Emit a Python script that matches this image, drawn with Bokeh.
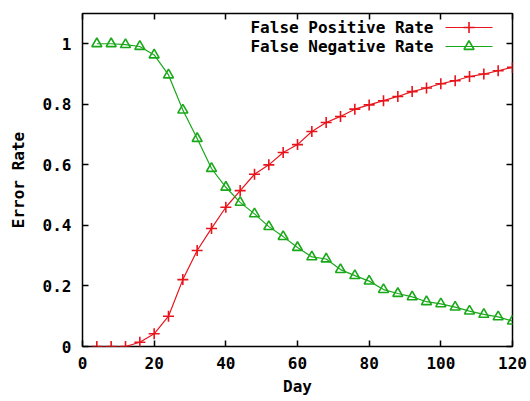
from bokeh.plotting import figure
from bokeh.models import FixedTicker, LinearAxis, Range1d, CustomJSTickFormatter, Label
from bokeh.embed import file_html
from bokeh.resources import INLINE

# Daily error rates of the classifier
days = [4, 8, 12, 16, 20, 24, 28, 32, 36, 40, 44, 48, 52, 56, 60,
        64, 68, 72, 76, 80, 84, 88, 92, 96, 100, 104, 108, 112, 116, 120]
false_positive = [0.0, 0.0, 0.0, 0.014, 0.042, 0.10, 0.221, 0.317, 0.39, 0.46,
                  0.515, 0.569, 0.60, 0.641, 0.667, 0.71, 0.74, 0.76, 0.784, 0.798,
                  0.812, 0.826, 0.842, 0.854, 0.868, 0.878, 0.892, 0.90, 0.911, 0.922]
false_negative = [1.0, 1.0, 0.997, 0.991, 0.963, 0.897, 0.781, 0.687, 0.588, 0.526,
                  0.476, 0.438, 0.396, 0.363, 0.327, 0.296, 0.289, 0.254, 0.234, 0.216,
                  0.188, 0.175, 0.164, 0.148, 0.141, 0.130, 0.117, 0.106, 0.098, 0.084]
series_names = ["False Positive Rate", "False Negative Rate"]
x_ticks = [0, 20, 40, 60, 80, 100, 120]
y_ticks = [0, 0.2, 0.4, 0.6, 0.8, 1.0]
y_tick_labels = ["0", "0.2", "0.4", "0.6", "0.8", "1"]

RED = "#e8141c"
GREEN = "#1aa81a"
FONT = "DejaVu Sans Mono"
FS = "16px"

W, H = 530, 401
LEFT, RIGHT, TOP, BOTTOM = 82, 18, 13, 55
X0, X1, Y0, Y1 = 0, 120, 0, 1.1

p = figure(width=W, height=H, output_backend="svg", toolbar_location=None,
           x_range=Range1d(X0, X1), y_range=Range1d(Y0, Y1),
           min_border_left=LEFT, min_border_right=RIGHT,
           min_border_top=TOP, min_border_bottom=BOTTOM,
           x_axis_label="Day", y_axis_label="Error Rate")
p.grid.visible = False
p.outline_line_color = "black"
p.outline_line_width = 1.5
p.background_fill_color = "white"
p.border_fill_color = "white"

p.xaxis.ticker = FixedTicker(ticks=x_ticks)
p.yaxis.ticker = FixedTicker(ticks=y_ticks)
p.yaxis.major_label_overrides = {t: s for t, s in zip(y_ticks, y_tick_labels)}

for ax in (p.xaxis[0], p.yaxis[0]):
    ax.axis_line_color = None
    ax.minor_tick_line_color = None
    ax.major_tick_in = 6
    ax.major_tick_out = 0
    ax.major_tick_line_width = 1.5
    ax.major_label_text_font = FONT
    ax.major_label_text_font_style = "bold"
    ax.major_label_text_font_size = FS
    ax.major_label_text_color = "black"
    ax.axis_label_text_font = FONT
    ax.axis_label_text_font_style = "bold"
    ax.axis_label_text_font_size = FS
    ax.axis_label_text_color = "black"
p.xaxis.major_label_standoff = 10
p.xaxis.axis_label_standoff = 5
p.yaxis.major_label_standoff = 11
p.yaxis.axis_label_standoff = 12

# mirrored ticks on the top and right edges, without labels
for side, ticks in (("above", x_ticks), ("right", y_ticks)):
    ax = LinearAxis(ticker=FixedTicker(ticks=ticks),
                    formatter=CustomJSTickFormatter(code="return ''"))
    ax.axis_line_color = None
    ax.minor_tick_line_color = None
    ax.major_tick_in = 6
    ax.major_tick_out = 0
    ax.major_tick_line_width = 1.5
    ax.major_label_text_font_size = "0px"
    ax.major_label_standoff = 0
    p.add_layout(ax, side)

# data series
p.line(days, false_positive, line_color=RED, line_width=1.2)
p.scatter(days, false_positive, marker="cross", size=11, line_color=RED, line_width=1.6)
p.line(days, false_negative, line_color=GREEN, line_width=1.2)
p.scatter(days, false_negative, marker="triangle", size=10, line_color=GREEN,
          fill_color=None, line_width=1.6)

# key in the upper right corner: text right-aligned, sample to its right
fw = W - LEFT - RIGHT
fh = H - TOP - BOTTOM


def px_to_data(px, py):
    return (X0 + (px - LEFT) / fw * (X1 - X0),
            Y0 + (H - BOTTOM - py) / fh * (Y1 - Y0))


keys = [(series_names[0], RED, "cross", 27), (series_names[1], GREEN, "triangle", 46)]
for name, color, marker, py in keys:
    tx, ty = px_to_data(433, py)
    p.add_layout(Label(x=tx, y=ty, text=name, text_align="right", text_baseline="middle",
                       text_font=FONT, text_font_style="bold", text_font_size=FS,
                       text_color="black"))
    ax_, _ = px_to_data(445, py)
    bx_, _ = px_to_data(492, py)
    mx_, _ = px_to_data(468.5, py)
    p.line([ax_, bx_], [ty, ty], line_color=color, line_width=1.2)
    p.scatter([mx_], [ty], marker=marker, size=11 if marker == "cross" else 10,
              line_color=color, fill_color=None, line_width=1.6)

open("out.html", "w").write(file_html(p, INLINE))
